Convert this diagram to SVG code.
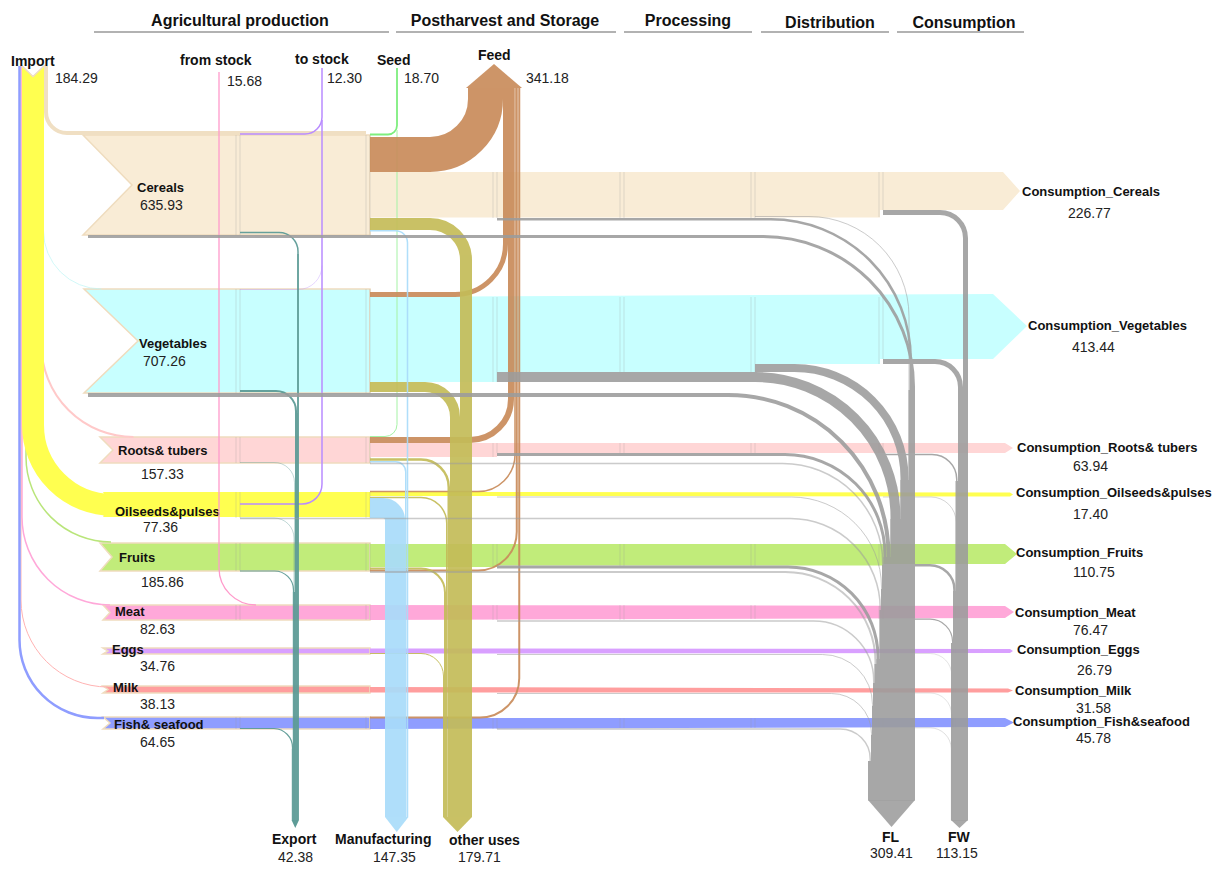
<svg xmlns="http://www.w3.org/2000/svg" width="1224" height="869" viewBox="0 0 1224 869">
<style>
.hd{font:bold 16px "Liberation Sans",Arial,sans-serif;fill:#111}
.lb{font:bold 13px "Liberation Sans",Arial,sans-serif;fill:#111}
.lb14{font:bold 14px "Liberation Sans",Arial,sans-serif;fill:#111}
.num{font:14px "Liberation Sans",Arial,sans-serif;fill:#222}
.ul{stroke:#999;stroke-width:1.5}
.f{fill:none}
.nodeL{stroke:#EFDCBE;stroke-width:1.5}
.div{fill:none;stroke:#999;stroke-opacity:0.35;stroke-width:0.8}
.gray{fill:none;stroke:#9C9C9C}
.thin{stroke-opacity:0.6}
.feed{fill:none;stroke:#C98C5B}
.oth{fill:none;stroke:#C4BC58}
.man{fill:none;stroke:#A9DCFA}
.exp{fill:none;stroke:#5E9C97}
</style>

<g id="headers">
<text class="hd" x="240" y="26" text-anchor="middle">Agricultural production</text>
<line class="ul" x1="94" y1="32" x2="389" y2="32"/>
<text class="hd" x="505" y="26" text-anchor="middle">Postharvest and Storage</text>
<line class="ul" x1="396" y1="32" x2="616" y2="32"/>
<text class="hd" x="688" y="26" text-anchor="middle">Processing</text>
<line class="ul" x1="624" y1="32" x2="752" y2="32"/>
<text class="hd" x="830" y="28" text-anchor="middle">Distribution</text>
<line class="ul" x1="761" y1="32" x2="889" y2="32"/>
<text class="hd" x="964" y="28" text-anchor="middle">Consumption</text>
<line class="ul" x1="897" y1="32" x2="1024" y2="32"/>
</g>

<g id="node-cereals">
<polygon class="nodeL" fill="#F9ECD6" points="83,135 370,135 370,235 83,235 132,185"/>
<polygon fill="#F9ECD6" points="370,172 1003,172 1020,191 1003,210 880,210 880,217.5 370,217.5"/>
<path class="div" d="M236,135V235M240,135V235M366,135V235M370,135V235M493,172V218M497,172V218M620,172V218M624,172V218M751,172V218M755,172V218M879,172V217M883,172V210"/>
<text class="lb" x="137" y="192">Cereals</text>
<text class="num" x="140" y="210">635.93</text>
<text class="lb" x="1022" y="196">Consumption_Cereals</text>
<text class="num" x="1068" y="218">226.77</text>
</g>

<g id="node-vegetables">
<polygon class="nodeL" fill="#C8FFFF" points="84,289 370,289 370,393 84,393 138,341"/>
<polygon fill="#C8FFFF" points="370,297 993,294 1027,326 993,359 880,359 880,364 755,364 755,372 497,372 497,382 370,382"/>
<path class="div" d="M236,289V393M240,289V393M366,289V393M370,289V393M493,297V382M497,297V382M620,297V372M624,297V372M751,297V372M755,297V372M879,297V364M883,297V359"/>
<text class="lb" x="139" y="348">Vegetables</text>
<text class="num" x="143" y="366">707.26</text>
<text class="lb" x="1028" y="330">Consumption_Vegetables</text>
<text class="num" x="1072" y="352">413.44</text>
</g>

<g id="node-roots">
<polygon class="nodeL" fill="#FFD6D6" points="100,437 370,437 370,463 100,463 113,450"/>
<polygon fill="#FFD6D6" points="370,443 1005,443 1013,448 1005,453 497,453 497,457 370,457"/>
<path class="div" d="M236,437V463M240,437V463M366,437V463M370,437V463M493,443V457M497,443V453M620,443V453M624,443V453M751,443V453M755,443V453M879,443V453M883,443V453"/>
<text class="lb" x="118" y="455">Roots&amp; tubers</text>
<text class="num" x="141" y="479">157.33</text>
<text class="lb" x="1017" y="452">Consumption_Roots&amp; tubers</text>
<text class="num" x="1073" y="471">63.94</text>
</g>

<g id="node-oilseeds">
<polygon fill="#FFFF50" points="103,492 370,492 370,517 103,517 110,505"/>
<polygon fill="#F6EBC8" points="103,505 110,505 103,517"/>
<polygon fill="#FFFF50" points="370,492 1010,492.5 1013,494.5 1010,496.5 370,496"/>
<path class="div" d="M236,492V518M240,492V518M366,492V518M370,492V518"/>
<text class="lb" x="115" y="516">Oilseeds&amp;pulses</text>
<text class="num" x="143" y="532">77.36</text>
<text class="lb" x="1016" y="497">Consumption_Oilseeds&amp;pulses</text>
<text class="num" x="1073" y="519">17.40</text>
</g>

<g id="node-fruits">
<polygon class="nodeL" fill="#C1EC7A" points="100,543 370,543 370,571 100,571 112,557"/>
<polygon fill="#C1EC7A" points="370,544 1005,544 1017,554 1005,564 883,564 883,565.5 497,565.5 497,567 370,567"/>
<path class="div" d="M236,543V571M240,543V571M366,543V571M370,543V571M493,544V567M497,544V566M620,544V566M624,544V566M751,544V566M755,544V566M879,544V566M883,544V564"/>
<text class="lb" x="119" y="562">Fruits</text>
<text class="num" x="141" y="587">185.86</text>
<text class="lb" x="1016" y="557">Consumption_Fruits</text>
<text class="num" x="1073" y="577">110.75</text>
</g>

<g id="node-meat">
<polygon class="nodeL" fill="#FFA8D9" points="103,605 370,605 370,620 103,620 110,612.5"/>
<polygon fill="#FFA8D9" points="370,605 1005,606 1014,612 1005,618 370,620"/>
<path class="div" d="M236,605V620M240,605V620M366,605V620M370,605V620M493,605V620M497,605V620M620,605V620M624,605V620M751,605V619M755,605V619M879,606V619M883,606V619"/>
<text class="lb" x="115" y="616">Meat</text>
<text class="num" x="140" y="634">82.63</text>
<text class="lb" x="1015" y="617">Consumption_Meat</text>
<text class="num" x="1073" y="635">76.47</text>
</g>

<g id="node-eggs">
<polygon class="nodeL" fill="#D9A0FF" points="103,648 370,648 370,654 103,654 108,651"/>
<polygon fill="#D9A0FF" points="370,648.5 1010,649 1013,651 1010,653 370,653.5"/>
<text class="lb" x="112" y="654">Eggs</text>
<text class="num" x="140" y="671">34.76</text>
<text class="lb" x="1017" y="654">Consumption_Eggs</text>
<text class="num" x="1077" y="675">26.79</text>
</g>

<g id="node-milk">
<polygon class="nodeL" fill="#FF9E9E" points="103,686 370,686 370,693 103,693 108,689.5"/>
<polygon fill="#FF9E9E" points="370,687 1008,688.5 1013,690.5 1008,692.5 370,692.5"/>
<text class="lb" x="113" y="692">Milk</text>
<text class="num" x="140" y="709">38.13</text>
<text class="lb" x="1015" y="695">Consumption_Milk</text>
<text class="num" x="1076" y="713">31.58</text>
</g>

<g id="node-fish">
<polygon class="nodeL" fill="#8F9DFF" points="103,717 370,717 370,729 103,729 110,723"/>
<polygon fill="#8F9DFF" points="370,718 1005,718 1014,722.5 1005,727 370,729"/>
<path class="div" d="M236,717V729M240,717V729M366,717V729M370,717V729M493,718V729M497,718V729M620,718V728M624,718V728M751,718V728M755,718V728M879,718V727M883,718V727"/>
<text class="lb" x="114" y="729">Fish&amp; seafood</text>
<text class="num" x="140" y="747">64.65</text>
<text class="lb" x="1013" y="726">Consumption_Fish&amp;seafood</text>
<text class="num" x="1076" y="743">45.78</text>
</g>

<g id="node-export">
<polygon fill="#5E9C97" points="291.5,820 299,820 295.25,828"/>
<text class="lb14" x="272" y="844">Export</text>
<text class="num" x="278" y="862">42.38</text>
</g>

<g id="node-fl">
<polygon fill="#A8A8A8" points="868,800 915,800 891.5,827"/>
<text class="lb14" x="882" y="842">FL</text>
<text class="num" x="870" y="858">309.41</text>
</g>

<g id="node-fw">
<polygon fill="#A8A8A8" points="951,820 968,820 959.5,828"/>
<text class="lb14" x="948" y="842">FW</text>
<text class="num" x="936" y="858">113.15</text>
</g>

<g id="connectors">
<g id="import-flows">
<path class="f" stroke="#B9E57A" stroke-width="1.5" d="M26,66V457A85,85 0 0 0 111,542"/>
<path class="f" stroke="#FFA8D9" stroke-width="1.5" d="M22,66V517A88,88 0 0 0 110,605"/>
<path class="f" stroke="#FFB3B3" stroke-width="1" d="M21,66V600A87,87 0 0 0 108,687"/>
<path class="f" stroke="#FFC9C9" stroke-width="2" d="M41.5,66V345A92,92 0 0 0 133.5,437"/>
<path class="f" stroke="#BDF5F5" stroke-width="1" stroke-opacity="0.7" d="M43.5,66V231A58,58 0 0 0 101.5,289"/>
<path class="f" stroke="#FFFF50" stroke-width="22" d="M33,66V425A80,80 0 0 0 113,505"/>
<path class="f" stroke="#F0DFC3" stroke-width="4" d="M46,66V112A21,21 0 0 0 67,133H366"/>
<path class="f" stroke="#8F9DFF" stroke-width="2.5" d="M19.5,66V640A78,78 0 0 0 97.5,718H104"/>
</g>
<g id="stock-seed-flows">
<path class="f" stroke="#FF9ACB" stroke-width="1.3" d="M219,72V568A37,37 0 0 0 256,605"/>
<path class="f" stroke="#B98CFF" stroke-width="1.5" d="M240,134H305A17,17 0 0 0 322,117V68"/>
<path class="f" stroke="#B98CFF" stroke-width="1" stroke-opacity="0.35" d="M240,289.5H298A24,24 0 0 0 322,265.5"/>
<path class="f" stroke="#B98CFF" stroke-width="1.5" d="M240,504H302A20,20 0 0 0 322,484V120"/>
<path class="f" stroke="#7EEE7E" stroke-width="1.8" d="M370,134.5H388A9,9 0 0 0 397,125.5V68"/>
<path class="f" stroke="#A5F2A5" stroke-width="1" d="M370,436.5H385A12,12 0 0 0 397,424.5V130"/>
</g>
<g id="export-flows" opacity="0.95">
<polygon fill="#5E9C97" points="298.75,254 297.25,254 297.25,413 295,413 295,592 292.9,592 292.9,749 291.9,749 291.9,820 298.75,820"/>
<path class="exp" stroke-width="1.5" d="M240,232.5H279A19,19 0 0 1 298,251.5V820"/>
<path class="exp" stroke-width="2" d="M240,391H276A20,20 0 0 1 296,411V820"/>
<path class="exp" stroke-width="0.8" stroke-opacity="0.5" d="M240,462.5H274A20,20 0 0 1 294.5,482.5V820"/>
<path class="exp" stroke-width="0.8" stroke-opacity="0.5" d="M240,518H274A20,20 0 0 1 294,538V820"/>
<path class="exp" stroke-width="1.2" d="M240,571H274A19,19 0 0 1 293.5,590V820"/>
<path class="exp" stroke-width="1.2" d="M240,728.5H274A19,19 0 0 1 292.5,747.5V820"/>
</g>
<g id="feed-flows" opacity="0.92">
<path class="feed" stroke-width="35" d="M370,154.5H430A55.5,55.5 0 0 0 485.5,99V88"/>
<path class="feed" stroke-width="5" d="M370,294.5H455A50.5,50.5 0 0 0 505.5,244V88"/>
<path class="feed" stroke-width="6" d="M370,440H470A41,41 0 0 0 511,399V88"/>
<path class="feed" stroke-width="1.5" d="M370,491.5H478A37,37 0 0 0 515,454.5V88"/>
<path class="feed" stroke-width="2" d="M370,570.5H478A38.75,38.75 0 0 0 516.75,531.75V88"/>
<path class="feed" stroke-width="2" d="M370,717.5H480A39.25,39.25 0 0 0 519.25,678.25V88"/>
</g>
<g id="other-uses-flows" opacity="0.92">
<path class="oth" stroke-width="12" d="M370,224H430A36,36 0 0 1 466,260V817"/>
<path class="oth" stroke-width="10" d="M370,387H425A30,30 0 0 1 455,417V817"/>
<path class="oth" stroke-width="2.5" d="M370,459.5H421A27.75,27.75 0 0 1 448.75,487.25V817"/>
<path class="oth" stroke-width="1.5" d="M370,497.5H421A25.75,25.75 0 0 1 446.75,523.25V817"/>
<path class="oth" stroke-width="2" d="M370,568.5H421A24,24 0 0 1 445,592.5V817"/>
<path class="oth" stroke-width="1" d="M370,653.5H421A22.5,22.5 0 0 1 443.5,676V817"/>
</g>
<g id="manufacturing-flows" opacity="0.92">
<path class="man" stroke-width="1.5" d="M370,230.75H395.5A12,12 0 0 1 407.5,242.75V817"/>
<path class="man" stroke-width="1.5" d="M370,461.75H395.75A10,10 0 0 1 405.75,471.75V817"/>
<path class="man" stroke-width="20" d="M370,508H383A12,12 0 0 1 395,520V817"/>
</g>
<g id="loss-flows" opacity="0.88">
<polygon fill="#9C9C9C" points="915,390 908.5,390 908.5,480 900.5,480 900.5,519 890.5,519 890.5,557 883.5,557 883.5,565 882,565 882,589 881,589 881,610 879.5,610 879.5,659 876.5,659 876.5,664 874.5,664 874.5,683 873,683 873,706 872,706 872,735 871,735 871,761 868,761 868,800.5 915,800.5"/>
<polygon fill="#9C9C9C" points="968,240 963,240 963,389 958,389 958,481 955.5,481 955.5,591 953,591 953,643 951,643 951,820.5 968,820.5"/>
<path class="gray" stroke-width="3" d="M88,236.5H763.5A150,150 0 0 1 913.5,386.5V800"/>
<path class="gray" stroke-width="2.5" d="M497,219.25H770.75A140,140 0 0 1 910.75,359.25V800"/>
<path class="gray thin" stroke-width="1" d="M755,216.5H809A100,100 0 0 1 909,316.5V800"/>
<path class="gray" stroke-width="8" d="M755,368H794.5A110,110 0 0 1 904.5,478V800"/>
<path class="gray" stroke-width="10" d="M497,377H755.5A140,140 0 0 1 895.5,517V800"/>
<path class="gray" stroke-width="4" d="M88,395H728.5A160,160 0 0 1 888.5,555V800"/>
<path class="gray" stroke-width="3" d="M497,454.5H785A100,100 0 0 1 885,554.5V800"/>
<path class="gray thin" stroke-width="1.5" d="M370,463.5H782.75A100,100 0 0 1 882.75,563.5V800"/>
<path class="gray thin" stroke-width="1" d="M497,497H791.5A90,90 0 0 1 881.5,587V800"/>
<path class="gray thin" stroke-width="1.5" d="M240,518.5H790.25A90,90 0 0 1 880.25,608.5V800"/>
<path class="gray" stroke-width="3" d="M497,567H788A90,90 0 0 1 878,657V800"/>
<path class="gray thin" stroke-width="2" d="M370,572H785.5A90,90 0 0 1 875.5,662V800"/>
<path class="gray thin" stroke-width="1.5" d="M497,621H813.75A60,60 0 0 1 873.75,681V800"/>
<path class="gray thin" stroke-width="1" d="M497,654.5H822.5A50,50 0 0 1 872.5,704.5V800"/>
<path class="gray thin" stroke-width="1" d="M497,693.5H831.5A40,40 0 0 1 871.5,733.5V800"/>
<path class="gray thin" stroke-width="1.5" d="M497,729H840.25A30,30 0 0 1 870.25,759V800"/>
<path class="gray" stroke-width="5" d="M883,212.5H940A25.5,25.5 0 0 1 965.5,238V820"/>
<path class="gray" stroke-width="5" d="M883,361.5H935A25.5,25.5 0 0 1 960.5,387V820"/>
<path class="gray" stroke-width="1.5" d="M883,454.5H932A24.75,24.75 0 0 1 956.75,479.25V820"/>
<path class="gray thin" stroke-width="0.8" d="M883,497H931A25.1,25.1 0 0 1 956.1,522.1V820"/>
<path class="gray" stroke-width="2.5" d="M883,565.25H930A24.45,24.45 0 0 1 954.45,589.7V820"/>
<path class="gray" stroke-width="1.2" d="M883,619.2H930A22.6,22.6 0 0 1 952.6,641.8V820"/>
<path class="gray thin" stroke-width="0.5" d="M883,653.5H930A21.8,21.8 0 0 1 951.8,675.3V820"/>
<path class="gray thin" stroke-width="0.5" d="M883,693H930A21.6,21.6 0 0 1 951.6,714.6V820"/>
<path class="gray thin" stroke-width="0.6" d="M883,727.8H930A21.3,21.3 0 0 1 951.3,749.1V820"/>
</g>
</g>

<g id="node-import">
<polygon fill="#ffffff" points="17,62 33,77 49,62"/>
<polyline fill="none" stroke="#EEDCC0" stroke-width="1.5" points="21,65 33,76.5 45,65"/>
<text class="lb14" x="11" y="66">Import</text>
<text class="num" x="55" y="83">184.29</text>
</g>

<g id="node-from-stock">
<text class="lb14" x="180" y="65">from stock</text>
<text class="num" x="227" y="86">15.68</text>
</g>

<g id="node-to-stock">
<text class="lb14" x="295" y="64">to stock</text>
<text class="num" x="327" y="83">12.30</text>
</g>

<g id="node-seed">
<text class="lb14" x="377" y="65">Seed</text>
<text class="num" x="404" y="83">18.70</text>
</g>

<g id="node-feed">
<polygon fill="#C98C5B" fill-opacity="0.92" points="466,88 522,88 494,64"/>
<text class="lb14" x="478" y="60">Feed</text>
<text class="num" x="526" y="83">341.18</text>
</g>

<g id="node-manufacturing">
<polygon fill="#A9DCFA" fill-opacity="0.92" points="385,817 408.5,817 396.75,832"/>
<text class="lb14" x="335" y="844">Manufacturing</text>
<text class="num" x="373" y="862">147.35</text>
</g>

<g id="node-other-uses">
<polygon fill="#C4BC58" fill-opacity="0.92" points="443,817 472,817 457.5,832"/>
<text class="lb14" x="449" y="845">other uses</text>
<text class="num" x="458" y="862">179.71</text>
</g>
</svg>
